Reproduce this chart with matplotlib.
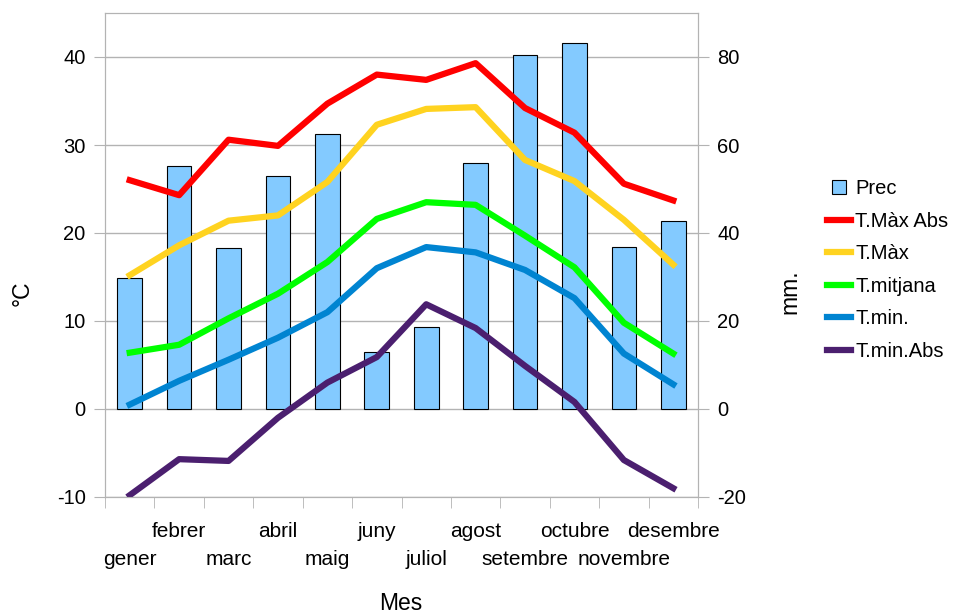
import matplotlib.pyplot as plt
from matplotlib.lines import Line2D
import numpy as np

plt.rcParams['font.family'] = ['Liberation Sans', 'DejaVu Sans']
plt.rcParams['axes.unicode_minus'] = False

mesos = ["gener", "febrer", "marc", "abril", "maig", "juny",
         "juliol", "agost", "setembre", "octubre", "novembre", "desembre"]
prec = [29.8, 55.2, 36.6, 53.0, 62.5, 13.0, 18.6, 55.9, 80.5, 83.2, 36.8, 42.7]
t_max_abs = [26.0, 24.3, 30.6, 29.9, 34.7, 38.0, 37.4, 39.3, 34.2, 31.4, 25.6, 23.7]
t_max = [15.2, 18.6, 21.4, 22.0, 25.8, 32.3, 34.1, 34.3, 28.3, 25.9, 21.5, 16.4]
t_mitjana = [6.4, 7.3, 10.3, 13.1, 16.7, 21.6, 23.5, 23.2, 19.7, 16.1, 9.8, 6.3]
t_min = [0.5, 3.2, 5.6, 8.1, 11.0, 16.0, 18.4, 17.8, 15.8, 12.6, 6.3, 2.8]
t_min_abs = [-9.8, -5.7, -5.9, -1.0, 3.0, 5.9, 11.9, 9.2, 4.9, 0.8, -5.8, -9.0]

grey = '#b3b3b3'
fig = plt.figure(figsize=(9.6, 6.14), dpi=100)
ax = fig.add_axes([105/960, 1-497/614, (698-105)/960, (497-13)/614])
ax2 = ax.twinx()
ax.set_zorder(ax2.get_zorder() + 1)
ax.patch.set_visible(False)

x = np.arange(len(mesos))

# precipitacio (eix dret)
ax2.bar(x, prec, width=0.5, color='#83caff', edgecolor='black', linewidth=0.8)
ax2.set_ylim(-20, 90)
ax2.set_yticks(range(-20, 81, 20))
ax2.grid(axis='y', color=grey, lw=1)
ax2.set_axisbelow(True)

# temperatures (eix esquerre)
series = [(t_max_abs, '#ff0000', 'T.Màx Abs'),
          (t_max, '#ffd320', 'T.Màx'),
          (t_mitjana, '#00ff00', 'T.mitjana'),
          (t_min, '#0084d1', 'T.min.'),
          (t_min_abs, '#4b1f6f', 'T.min.Abs')]
for vals, col, lab in series:
    ax.plot(x, vals, color=col, lw=4.5, label=lab)

ax.set_ylim(-10, 45)
ax.set_yticks(range(-10, 41, 10))
ax.set_xlim(-0.5, 11.5)
ax.set_xticks(x)
ax.set_xticklabels([("\n" + m) if i % 2 == 0 else m for i, m in enumerate(mesos)])
ax.set_xticks(np.arange(-0.5, 12, 1), minor=True)
ax.tick_params(axis='x', which='major', length=0, pad=18, labelsize=15)
ax.tick_params(axis='x', which='minor', length=8, color=grey)
for lbl in ax.get_xticklabels():
    lbl.set_linespacing(1.6)
ax.tick_params(axis='y', length=8, color=grey, labelsize=14.5, pad=6)
ax2.tick_params(axis='y', length=8, color=grey, labelsize=14.5, pad=6)
for a in (ax, ax2):
    for s in a.spines.values():
        s.set_color(grey)

fig.text(22/960, 1-293/614, "°C", rotation=90, ha='center', va='center', fontsize=16.5)
fig.text(790/960, 1-292/614, "mm.", rotation=90, ha='center', va='center', fontsize=16.5)
fig.text(401/960, 1-603/614, "Mes", ha='center', va='center', fontsize=16.5)

handles = [Line2D([], [], marker='s', markersize=10, markerfacecolor='#83caff',
                  markeredgecolor='black', markeredgewidth=0.8, linestyle='none')]
handles += [Line2D([], [], color=c, lw=4.5) for _, c, _ in series]
labels = ['Prec'] + [l for _, _, l in series]
fig.legend(handles, labels, loc='center left', bbox_to_anchor=(827/960, 1-270/614),
           frameon=False, fontsize=14.5, handlelength=1.2, handletextpad=0.2,
           labelspacing=0.67, borderpad=0, borderaxespad=0)

fig.savefig("out.png", dpi=100)
